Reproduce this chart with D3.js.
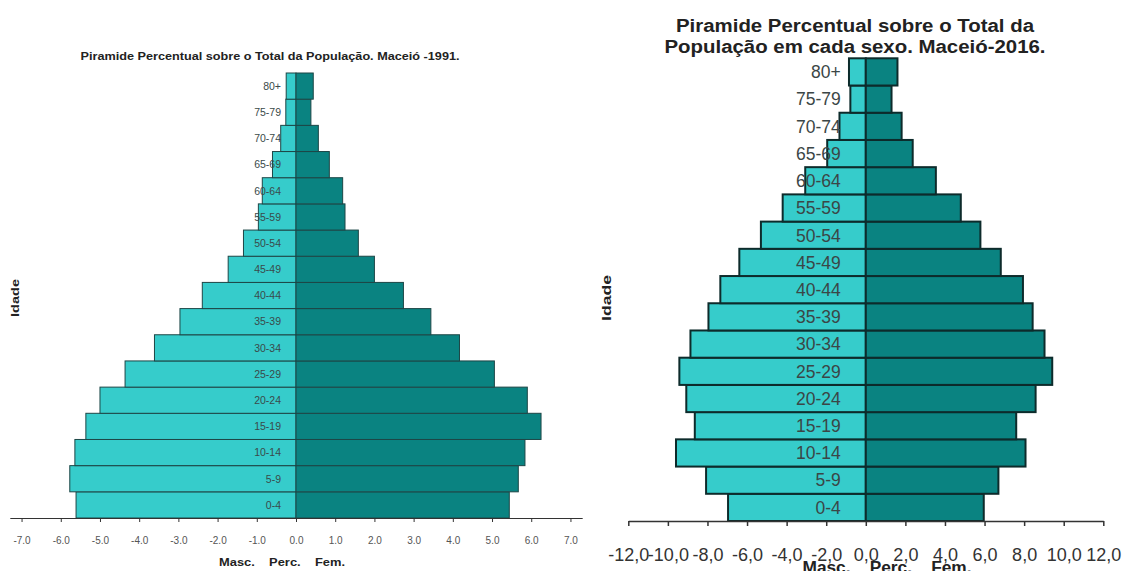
<!DOCTYPE html>
<html>
<head>
<meta charset="utf-8">
<script src="https://cdn.jsdelivr.net/npm/d3@7"></script>
<style>
  body { margin: 0; background: #fff; }
  svg { display: block; font-family: "Liberation Sans", Arial, sans-serif; }
</style>
</head>
<body>
<svg id="chart" width="1125" height="571"></svg>
<script>
/* Data: age groups from youngest to oldest, values are % of total population */
const ageGroups = ["0-4", "5-9", "10-14", "15-19", "20-24", "25-29", "30-34", "35-39",
  "40-44", "45-49", "50-54", "55-59", "60-64", "65-69", "70-74", "75-79", "80+"];

const male1991   = [5.61, 5.77, 5.64, 5.36, 5.00, 4.36, 3.61, 2.96, 2.39, 1.73, 1.34, 0.96, 0.86, 0.60, 0.39, 0.26, 0.25];
const female1991 = [5.44, 5.67, 5.84, 6.25, 5.90, 5.06, 4.17, 3.44, 2.74, 2.00, 1.59, 1.25, 1.19, 0.85, 0.57, 0.38, 0.44];

const male2016   = [6.96, 8.07, 9.59, 8.64, 9.07, 9.42, 8.86, 7.95, 7.35, 6.39, 5.30, 4.20, 3.06, 1.95, 1.33, 0.78, 0.85];
const female2016 = [5.96, 6.70, 8.07, 7.60, 8.58, 9.42, 9.03, 8.43, 7.94, 6.82, 5.79, 4.80, 3.54, 2.37, 1.81, 1.30, 1.60];

const ticks1991 = [-7, -6, -5, -4, -3, -2, -1, 0, 1, 2, 3, 4, 5, 6, 7];
const ticks2016 = [-12, -10, -8, -6, -4, -2, 0, 2, 4, 6, 8, 10, 12];

const colorMasc = "#36cccb";
const colorFem = "#0a8381";

const svg = d3.select("#chart");

/* Draw one pyramid panel */
function drawPyramid(cfg) {
  const g = svg.append("g");
  const rows = ageGroups.map((a, i) => ({ age: a, m: cfg.male[i], f: cfg.female[i] }));

  const x = d3.scaleLinear().domain(cfg.xDomain).range(cfg.xRange);
  const y = d3.scaleBand().domain(ageGroups.slice().reverse()).range(cfg.yRange).padding(0);

  /* male bars (left) */
  g.selectAll(".masc")
    .data(rows)
    .join("rect")
      .attr("x", d => x(-d.m))
      .attr("y", d => y(d.age))
      .attr("width", d => x(0) - x(-d.m))
      .attr("height", y.bandwidth())
      .attr("fill", colorMasc)
      .attr("stroke", cfg.stroke)
      .attr("stroke-width", cfg.strokeWidth);

  /* female bars (right) */
  g.selectAll(".fem")
    .data(rows)
    .join("rect")
      .attr("x", x(0))
      .attr("y", d => y(d.age))
      .attr("width", d => x(d.f) - x(0))
      .attr("height", y.bandwidth())
      .attr("fill", colorFem)
      .attr("stroke", cfg.stroke)
      .attr("stroke-width", cfg.strokeWidth);

  /* age labels drawn over the bars */
  g.selectAll(".age")
    .data(rows)
    .join("text")
      .attr("x", x(0) - cfg.labelGap)
      .attr("y", d => y(d.age) + y.bandwidth() / 2)
      .attr("dy", "0.36em")
      .attr("text-anchor", "end")
      .style("font-size", cfg.labelSize + "px")
      .style("fill", cfg.labelColor)
      .text(d => d.age);

  /* x axis */
  const axis = g.append("g")
    .attr("transform", `translate(0,${cfg.yRange[1]})`)
    .call(d3.axisBottom(x).tickValues(cfg.ticks).tickFormat(cfg.fmt).tickSize(cfg.tickSize).tickSizeOuter(0));
  axis.select(".domain").attr("stroke", "#333").attr("stroke-width", cfg.axisWidth);
  axis.selectAll(".tick line").attr("stroke", "#333").attr("stroke-width", cfg.axisWidth);
  axis.selectAll(".tick text")
    .attr("y", cfg.tickTextY)
    .attr("dy", 0)
    .style("font-size", cfg.tickSizeFont + "px")
    .style("font-family", '"Liberation Sans", Arial, sans-serif')
    .style("fill", cfg.tickColor);

  /* title */
  cfg.title.forEach((t, i) => {
    g.append("text")
      .attr("x", cfg.titleX)
      .attr("y", cfg.titleY[i])
      .attr("text-anchor", "middle")
      .attr("textLength", cfg.titleLen[i])
      .attr("lengthAdjust", "spacingAndGlyphs")
      .style("font-size", cfg.titleSize + "px")
      .style("font-weight", "bold")
      .style("fill", "#222")
      .text(t);
  });

  /* x axis caption */
  g.append("text")
    .attr("x", cfg.capX)
    .attr("y", cfg.capY)
    .attr("text-anchor", "middle")
    .attr("textLength", cfg.capLen)
    .attr("lengthAdjust", "spacingAndGlyphs")
    .style("white-space", "pre")
    .style("font-size", cfg.capSize + "px")
    .style("font-weight", "bold")
    .style("fill", "#222")
    .text("Masc.    Perc.    Fem.");

  /* y axis caption */
  g.append("text")
    .attr("transform", `translate(${cfg.idadeX},${cfg.idadeY}) rotate(-90)`)
    .attr("text-anchor", "middle")
    .attr("dy", "0.35em")
    .attr("textLength", cfg.idadeLen)
    .attr("lengthAdjust", "spacingAndGlyphs")
    .style("font-size", cfg.idadeSize + "px")
    .style("font-weight", "bold")
    .style("fill", "#222")
    .text("Idade");
}

drawPyramid({
  male: male1991, female: female1991,
  xDomain: [-7.3, 7.3], xRange: [9.8, 582.2], yRange: [73, 518],
  ticks: ticks1991, fmt: d => d.toFixed(1),
  stroke: "#1d4646", strokeWidth: 1, axisWidth: 1, tickSize: 4,
  labelGap: 15, labelSize: 10.5, labelColor: "#3a4a4a",
  tickTextY: 26, tickSizeFont: 10, tickColor: "#555",
  title: ["Piramide Percentual sobre o Total da População. Maceió  -1991."],
  titleX: 270, titleY: [60], titleLen: [379], titleSize: 10,
  capX: 282, capY: 566, capLen: 126, capSize: 10,
  idadeX: 15, idadeY: 298, idadeLen: 38, idadeSize: 10
});

drawPyramid({
  male: male2016, female: female2016,
  xDomain: [-12, 12], xRange: [628.3, 1103.3], yRange: [58.3, 521],
  ticks: ticks2016, fmt: d => d.toFixed(1).replace(".", ","),
  stroke: "#0d2b2b", strokeWidth: 2, axisWidth: 1.5, tickSize: 5,
  labelGap: 25, labelSize: 17.5, labelColor: "#3b4646",
  tickTextY: 40, tickSizeFont: 18, tickColor: "#333",
  title: ["Piramide Percentual sobre o Total da", "População em cada sexo. Maceió-2016."],
  titleX: 855, titleY: [32, 53], titleLen: [358, 381], titleSize: 18,
  capX: 887, capY: 573, capLen: 169, capSize: 16,
  idadeX: 606, idadeY: 298, idadeLen: 46, idadeSize: 13
});
</script>
</body>
</html>
